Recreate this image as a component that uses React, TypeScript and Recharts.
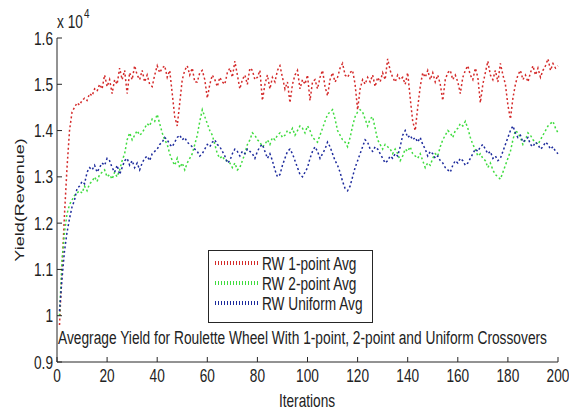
import React from 'react';
import { LineChart, Line, XAxis, YAxis } from 'recharts';

const FONT = "'Liberation Sans', Arial, sans-serif";
const SX = 0.76;
const FS = 18;

const xTicks = [0, 20, 40, 60, 80, 100, 120, 140, 160, 180, 200];
const yTicks = [9000, 10000, 11000, 12000, 13000, 14000, 15000, 16000];

const seriesNames = ['RW 1-point Avg', 'RW 2-point Avg', 'RW Uniform Avg'];
const seriesColors = ['#d42a2a', '#3fdc3f', '#1c2a9c'];
const titleText = 'Avegrage Yield for Roulette Wheel With 1-point, 2-point and Uniform Crossovers';

const onePoint = [
  9800, 11000, 12200, 13200, 14000, 14400, 14500, 14600, 14550, 14650,
  14700, 14650, 14800, 14750, 14900, 14850, 15000, 14900, 15200, 14950,
  15100, 14800, 15100, 15000, 15350, 15100, 15300, 14800, 15250, 15100,
  15400, 15200, 15100, 15300, 15050, 15200, 15000, 14950, 15200, 15400,
  15250, 15350, 15400, 15150, 15300, 14800, 14300, 14100, 14600, 15100,
  15300, 15400, 15200, 15350, 15050, 15050, 15250, 15300, 15100, 14700,
  15000, 15200, 15100, 14950, 15150, 15050, 15000, 15250, 15350, 15150,
  15500, 15200, 14900, 15100, 15200, 15000, 15350, 15300, 15100, 15150,
  15300, 14650, 15000, 15200, 14900, 15150, 15050, 15300, 15400, 15150,
  14900, 15050, 14600, 15000, 15200, 15300, 14900, 15100, 15000, 15200,
  14650, 15050, 15100, 14900, 15150, 15300, 14950, 14750, 15100, 15250,
  15050, 15150, 15350, 15450, 15200, 15150, 15250, 15300, 15000, 14450,
  14900, 15100, 15000, 15150, 15050, 15200, 14950, 15150, 15050, 15250,
  15100, 15550, 15300, 15150, 15050, 15200, 15100, 15150, 15000, 15250,
  14700, 14200, 14000, 14500, 14950, 15250, 15150, 15300, 15100, 15250,
  15050, 15200, 15000, 14650, 15100, 15250, 15300, 15100, 15200, 15050,
  14800, 15150, 15300, 15400, 15200, 15100, 15350, 15150, 14600, 15000,
  15250, 15500, 15200, 15100, 15300, 15050, 15450, 15200, 15000, 14550,
  14250, 14700, 15000, 15200, 15300, 15100, 15200, 15050, 15250, 15400,
  15200, 15350, 15150, 15300, 15400, 15550, 15300, 15450, 15350, 15400,
];

const twoPoint = [
  10000, 11200, 11800, 12200, 12400, 12500, 12600, 12650, 12700, 12650,
  12800, 12700, 12850, 12900, 13000, 12900, 13050, 13100, 13150, 13000,
  13050, 12950, 13100, 13000, 13150, 13350, 13500, 13800, 13950, 13800,
  13900, 14000, 13900, 13950, 14050, 14150, 14100, 14250, 14200, 14350,
  14150, 13950, 13800, 13700, 13500, 13350, 13250, 13400, 13200, 13300,
  13150, 13300, 13400, 13500, 13700, 13900, 14200, 14450, 14300, 14150,
  14000, 13900, 13700, 13500, 13400, 13450, 13350, 13350, 13300, 13200,
  13300, 13150, 13200, 13350, 13500, 13700, 13800, 13950, 13900, 13800,
  13750, 13650, 13700, 13800, 13700, 13850, 13800, 13900, 13950, 13850,
  13900, 14000, 13950, 14050, 13900, 14000, 14100, 14050, 13950, 14100,
  14000, 13850, 13800, 13750, 13900, 14050, 14200, 14350, 14400, 14450,
  14250, 14000, 13900, 13800, 13750, 13650, 13850, 14100, 14300, 14400,
  14450, 14400, 14250, 14100, 14250, 14300, 14050, 13800, 13700, 13600,
  13700, 13650, 13600, 13500, 13600, 13500, 13350, 13450, 13600, 13550,
  13650, 13500, 13450, 13400, 13500, 13350, 13200, 13300, 13250, 13400,
  13500, 13450, 13650, 13800, 13900, 14000, 13950, 13850, 14000, 14050,
  14150, 14100, 14200, 14050, 13850, 13700, 13600, 13450, 13500, 13400,
  13350, 13200, 13300, 13150, 13050, 13000, 12950, 13100, 13250, 13400,
  13550, 13800, 14000, 13950, 13850, 13700, 13800, 13950, 13900, 13800,
  13750, 13700, 13800, 13900, 14000, 14100, 14150, 14200, 14050, 13950,
];

const uniform = [
  10100, 10800, 11400, 11800, 12100, 12350, 12500, 12750, 12800, 12900,
  12850, 13100, 13200, 13150, 13250, 13100, 13200, 13300, 13250, 13400,
  13350, 13200, 13100, 13250, 13050, 13200, 13350, 13400, 13250, 13350,
  13200, 13300, 13150, 13300, 13400, 13450, 13350, 13500, 13550, 13600,
  13700, 13750, 13850, 13800, 13700, 13650, 13750, 13850, 13900, 13800,
  13850, 13750, 13700, 13650, 13600, 13550, 13450, 13500, 13600, 13700,
  13650, 13750, 13800, 13700, 13650, 13550, 13450, 13300, 13350, 13500,
  13600, 13550, 13450, 13550, 13500, 13600, 13550, 13500, 13400, 13550,
  13650, 13700, 13550, 13400, 13500, 13350, 13150, 13000, 13050, 13250,
  13400, 13550, 13600, 13500, 13350, 13200, 13050, 13000, 13100, 13200,
  13400, 13550, 13650, 13550, 13400, 13500, 13600, 13750, 13650, 13500,
  13350, 13250, 13100, 12900, 12750, 12700, 12800, 13000, 13200, 13350,
  13500, 13650, 13800, 13750, 13600, 13550, 13650, 13600, 13500, 13400,
  13300, 13350, 13450, 13400, 13500, 13450, 13650, 13900, 14000, 13850,
  13900, 13800, 13850, 13750, 13850, 13700, 13600, 13450, 13550, 13500,
  13400, 13450, 13350, 13300, 13200, 13150, 13100, 13250, 13350, 13300,
  13400, 13350, 13250, 13300, 13400, 13500, 13600, 13550, 13650, 13700,
  13600, 13500, 13550, 13400, 13450, 13350, 13400, 13550, 13700, 13850,
  14000, 14100, 13950, 13850, 13900, 13750, 13800, 13850, 13700, 13650,
  13750, 13700, 13600, 13650, 13750, 13700, 13600, 13650, 13550, 13500,
];

const iterations = onePoint.map((_, i) => i + 1);

const data = iterations.map((it, i) => ({
  it,
  a: onePoint[i],
  b: twoPoint[i],
  c: uniform[i],
}));

const keys = ['a', 'b', 'c'];

const W = 569;
const H = 411;
const AXIS = '#262626';
const TEXT = '#222';

const XTick = (props: any) => {
  const { x, y, payload } = props;
  return (
    <text
      transform={`translate(${x},${y + 14}) scale(${SX},1)`}
      textAnchor="middle"
      fontSize={FS}
      fontFamily={FONT}
      fill={TEXT}
    >
      {payload.value}
    </text>
  );
};

const YTick = (props: any) => {
  const { x, y, payload } = props;
  return (
    <text
      transform={`translate(${x},${y + 6.5}) scale(${SX},1)`}
      textAnchor="end"
      fontSize={FS}
      fontFamily={FONT}
      fill={TEXT}
    >
      {String(payload.value / 10000)}
    </text>
  );
};

const sq = (x: number, y: number) => `translate(${x},${y}) scale(${SX},1)`;

export default function App() {
  return (
    <div style={{ position: 'fixed', left: 0, top: 0, width: W, height: H, background: '#fff' }}>
      <LineChart
        width={W}
        height={H}
        data={data}
        margin={{ top: 38, right: 11, bottom: 19, left: 0 }}
      >
        <XAxis
          dataKey="it"
          type="number"
          domain={[0, 200]}
          ticks={xTicks}
          interval={0}
          height={30}
          stroke={AXIS}
          tickSize={-5}
          tickMargin={11}
          tick={<XTick />}
        />
        <XAxis
          xAxisId="top"
          orientation="top"
          dataKey="it"
          type="number"
          domain={[0, 200]}
          ticks={xTicks}
          interval={0}
          height={0}
          stroke={AXIS}
          tickSize={-5}
          tickFormatter={() => ''}
        />
        <YAxis
          type="number"
          domain={[9000, 16000]}
          ticks={yTicks}
          interval={0}
          width={57}
          stroke={AXIS}
          tickSize={-5}
          tickMargin={9}
          tick={<YTick />}
        />
        <YAxis
          yAxisId="right"
          orientation="right"
          type="number"
          domain={[9000, 16000]}
          ticks={yTicks}
          interval={0}
          width={0}
          stroke={AXIS}
          tickSize={-5}
          tickFormatter={() => ''}
        />
        {keys.map((k, i) => (
          <Line
            key={k}
            dataKey={k}
            type="linear"
            stroke={seriesColors[i]}
            strokeWidth={1.5}
            strokeDasharray="2 2.5"
            dot={false}
            isAnimationActive={false}
          />
        ))}
      </LineChart>
      <svg
        width={W}
        height={H}
        style={{ position: 'absolute', left: 0, top: 0, pointerEvents: 'none' }}
        fontFamily={FONT}
      >
        <text transform={sq(57, 28)} fontSize={FS} fill={TEXT}>x 10</text>
        <text transform={sq(84, 18)} fontSize={13} fill={TEXT}>4</text>
        <text
          transform={`translate(19,200) rotate(-90) scale(1,${SX})`}
          textAnchor="middle"
          dominantBaseline="central"
          fontSize={FS}
          fill={TEXT}
        >
          Yield(Revenue)
        </text>
        <text transform={sq(307, 407)} textAnchor="middle" fontSize={FS} fill={TEXT}>
          Iterations
        </text>
        <text
          x={58}
          y={343.5}
          fontSize={FS}
          fill={TEXT}
          textLength={489}
          lengthAdjust="spacingAndGlyphs"
        >
          {titleText}
        </text>
        <rect x={208.5} y={250.5} width={164} height={72} fill="#fff" stroke={AXIS} strokeWidth={1} />
        {seriesNames.map((n, i) => (
          <g key={n}>
            <line
              x1={215}
              x2={260}
              y1={263 + i * 20}
              y2={263 + i * 20}
              stroke={seriesColors[i]}
              strokeWidth={4}
              strokeDasharray="1 2"
            />
            <text transform={sq(262, 269.5 + i * 20)} fontSize={FS} fill={TEXT}>
              {n}
            </text>
          </g>
        ))}
      </svg>
    </div>
  );
}
